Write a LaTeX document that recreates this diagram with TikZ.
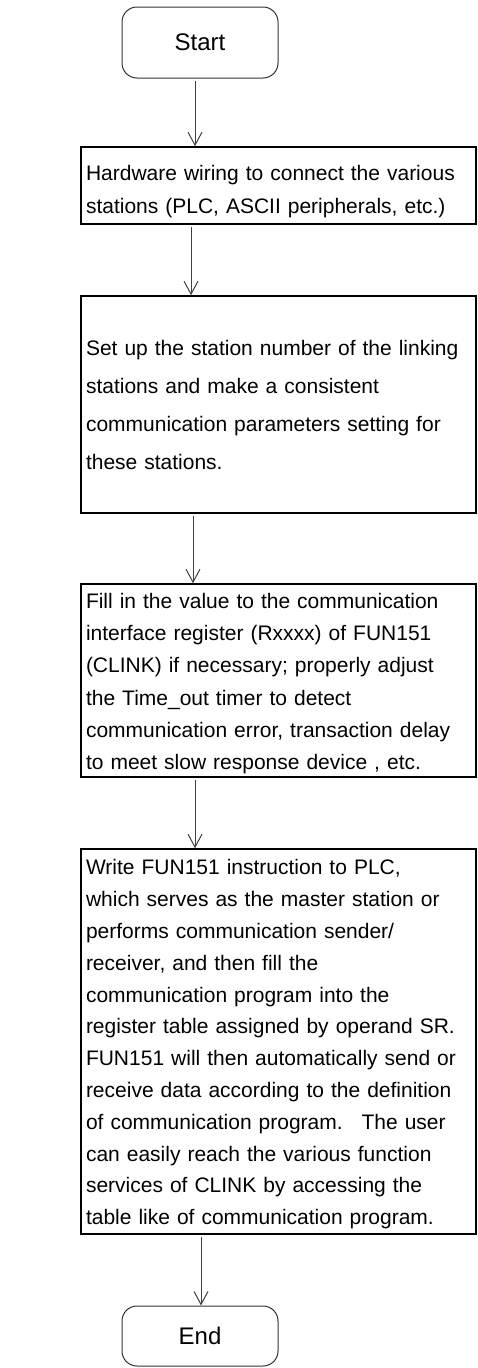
\documentclass[tikz,border=0pt]{standalone}
\usepackage{fontspec}
\setmainfont{Liberation Sans}
\usetikzlibrary{arrows.meta}
\newcommand\mytopstrut[1]{\rule{0pt}{#1}}
\begin{document}
\begin{tikzpicture}[x=1pt,y=-1pt,
  term/.style={draw=black!80, line width=1pt, rounded corners=15pt, minimum width=156pt, inner sep=0pt, font=\fontsize{24}{28}\selectfont},
  stepbox/.style={draw=black, line width=1.6pt, minimum width=395pt, text width=385pt, align=left, inner xsep=5pt, inner ysep=0pt},
  conn/.style={draw=black!75, line width=1pt, shorten <=2pt, -{Straight Barb[length=13pt,width=14pt]}}]
\useasboundingbox (0,0) rectangle (477,1368);
\node[term, minimum height=71pt] (start) at (200,42.5) {Start};
\node[stepbox, minimum height=77pt, font=\fontsize{21}{33}\selectfont] (b1) at (278.5,185.5)
  {\hyphenpenalty=10000 \mytopstrut{27.5pt}Hardware wiring to connect the various\\stations (PLC, ASCII peripherals, etc.)};
\node[stepbox, minimum height=217pt, font=\fontsize{21}{38}\selectfont] (b2) at (278.5,404.5)
  {\hyphenpenalty=10000 Set up the station number of the linking\\stations and make a consistent\\communication parameters setting for\\these stations.};
\node[stepbox, minimum height=193pt, font=\fontsize{21}{32.2}\selectfont] (b3) at (278.5,680.5)
  {\hyphenpenalty=10000 \mytopstrut{21.5pt}Fill in the value to the communication\\interface register (Rxxxx) of FUN151\\(CLINK) if necessary; properly adjust\\the Time\_out timer to detect\\communication error, transaction delay\\to meet slow response device , etc.};
\node[stepbox, minimum height=385pt, font=\fontsize{21}{31.8}\selectfont] (b4) at (278.5,1041.5)
  {\hyphenpenalty=10000 \mytopstrut{21pt}Write FUN151 instruction to PLC,\\which serves as the master station or\\performs communication sender/\\receiver, and then fill the\\communication program into the\\register table assigned by operand SR.\\FUN151 will then automatically send or\\receive data according to the definition\\of communication program.\hspace{0.9em}The user\\can easily reach the various function\\services of CLINK by accessing the\\table like of communication program.};
\node[term, minimum height=60pt] (end) at (200,1336) {End};
\draw[conn] ([xshift=-5pt]start.south) -- ([xshift=-5pt]start.south |- b1.north);
\draw[conn] ([xshift=-87.5pt]b1.south) -- ([xshift=-87.5pt]b1.south |- b2.north);
\draw[conn] ([xshift=-85.5pt]b2.south) -- ([xshift=-85.5pt]b2.south |- b3.north);
\draw[conn] ([xshift=-83.5pt]b3.south) -- ([xshift=-83.5pt]b3.south |- b4.north);
\draw[conn] ([xshift=-77.5pt]b4.south) -- ([xshift=-77.5pt]b4.south |- end.north);
\end{tikzpicture}
\end{document}
